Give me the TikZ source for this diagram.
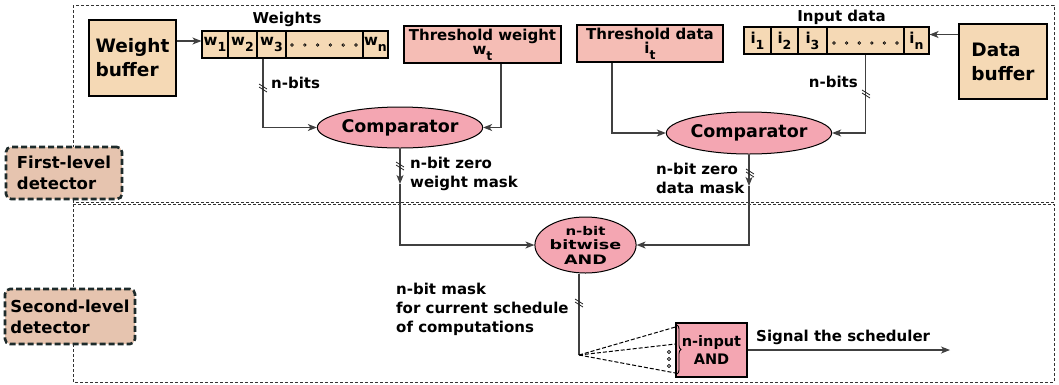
\documentclass[tikz,border=0pt]{standalone}
\usepackage{fontspec}
\usepackage{graphicx}
\setmainfont{DejaVu Sans}
\usetikzlibrary{arrows.meta,decorations.pathreplacing,shapes.geometric}
\definecolor{wheatc}{HTML}{F5D9B5}
\definecolor{thrc}{HTML}{F5BDB5}
\definecolor{pinkc}{HTML}{F4A6B2}
\definecolor{lblc}{HTML}{E6C4AF}
\definecolor{lbld}{HTML}{1E2B2B}
\newcommand\fs[2]{\fontsize{#1}{#2}\selectfont}
\newcommand\sbs[1]{\raisebox{-6pt}{\fs{12.5}{12.5}#1}}
\begin{document}
\begin{tikzpicture}[x=1pt,y=-1pt,
  buf/.style={draw=black, line width=1.2pt, fill=wheatc, align=left, inner sep=0, font=\bfseries\fs{18.5}{24}},
  cell/.style={draw=black, line width=1.1pt, fill=wheatc, inner sep=0, minimum height=27pt, font=\bfseries\fs{15}{18}},
  thr/.style={draw=black, line width=1.1pt, fill=thrc, align=center, inner sep=0, minimum height=37pt, font=\bfseries\fs{15}{18}},
  cmp/.style={ellipse, draw=black, line width=1pt, fill=pinkc, inner sep=0, font=\bfseries\fs{17.5}{20}},
  lbl/.style={inner sep=0, font=\bfseries\fs{15}{19}, align=left},
  det/.style={draw=lbld, line width=2.6pt, dash pattern=on 6pt off 3pt, rounded corners=5pt, fill=lblc, align=left, inner sep=0, font=\bfseries\fs{16.5}{21}},
  conn/.style={draw=black!75, line width=1.1pt},
  arr/.style={conn, -{Stealth[length=9pt,width=7pt,inset=2.5pt]}},
  framel/.style={draw=black!80, line width=1pt, dash pattern=on 3pt off 2pt},
  fanl/.style={draw=black, line width=1pt, dash pattern=on 4pt off 2pt},
  busmark/.pic={\draw[black!85, line width=0.8pt] (-4,-4) -- (4,1) (-4,-1) -- (4,4);}
]
\useasboundingbox (0,0) rectangle (1059,384);
% frames
\draw[framel] (73,5) rectangle (1054,202);
\draw[framel] (73,204) rectangle (1054,382);

% level labels
\node[det, minimum width=116pt, minimum height=52pt] (det1) at (64,173) {First-level\\detector};
\node[det, minimum width=130pt, minimum height=55pt] (det2) at (70,316.5) {Second-level\\detector};

% buffers
\node[buf, minimum width=87pt, minimum height=76pt] (wbuf) at (132.5,58) {Weight\\buffer};
\node[buf, minimum width=88pt, minimum height=75pt] (dbuf) at (1003,61.5) {Data\\buffer};

% weight register
\node[cell, minimum width=26pt] (w1) at (215,44.5) {w\sbs{1}};
\node[cell, minimum width=29pt] (w2) at (242.5,44.5) {w\sbs{2}};
\node[cell, minimum width=29pt] (w3) at (271.5,44.5) {w\sbs{3}};
\node[cell, minimum width=77pt] (wd) at (324.5,44.5) {};
\node[cell, minimum width=25pt] (wn) at (375.5,44.5) {w\sbs{n}};
\node[lbl, anchor=base] (wlab) at (287,23) {Weights};
\foreach \i in {0,...,5} \draw[black, line width=0.7pt] ({292+\i*12.8},45) circle[radius=1.3pt];

% input register
\node[cell, minimum width=27pt] (i1) at (757.5,40.5) {i\sbs{1}};
\node[cell, minimum width=27pt] (i2) at (784.5,40.5) {i\sbs{2}};
\node[cell, minimum width=29pt] (i3) at (812.5,40.5) {i\sbs{3}};
\node[cell, minimum width=77pt] (id) at (865.5,40.5) {};
\node[cell, minimum width=25pt] (in) at (916.5,40.5) {i\sbs{n}};
\node[lbl, anchor=base] (ilab) at (841.5,21) {Input data};
\foreach \i in {0,...,5} \draw[black, line width=0.7pt] ({834+\i*12.6},43) circle[radius=1.3pt];

% thresholds
\node[thr, minimum width=157pt] (thw) at (482.5,44.5) {Threshold weight\\[-4pt] w\sbs{t}};
\node[thr, minimum width=146pt] (thd) at (650,43.5) {Threshold data\\[-4pt] i\sbs{t}};

% comparators
\node[cmp, minimum width=138pt, minimum height=41pt] (cmp1) at (400,127.5) {Comparator};
\node[cmp, minimum width=136pt, minimum height=42pt] (cmp2) at (749,133) {Comparator};

% bitwise AND
\node[cmp, minimum width=95pt, minimum height=56pt, align=center, font=\bfseries\fs{13}{14.5}] (and) at (585.5,245)
  {\scalebox{1.25}[1]{\fs{12}{12}n-bit}\\\scalebox{1.35}[1]{bitwise}\\\scalebox{1.35}[1]{AND}};

% n-input AND
\node[draw=black, line width=1.1pt, fill=pinkc, inner sep=0, minimum width=71pt, minimum height=54pt, align=center, font=\bfseries\fs{14.5}{18}] (nand) at (711.5,350) {n-input\\AND};

% coordinates
\coordinate (wa) at ([yshift=3.5pt]w1.west);
\coordinate (ia) at ([yshift=6pt]in.east);
\coordinate (m1) at (400,184);
\coordinate (m2) at (749,186);
\coordinate (fan) at (579,355);
\coordinate (sig) at (950,350);

% connectors
\draw[arr] (wa -| wbuf.east) -- (wa);
\draw[arr] (ia -| dbuf.west) -- (ia);
\draw[arr] ([xshift=-8.5pt]w3.south) |- (cmp1.west);
\draw[arr] ([xshift=18.5pt]thw.south) |- (cmp1.east);
\draw[arr] ([xshift=-38pt]thd.south) |- (cmp2.west);
\draw[arr] (id.south) |- (cmp2.east);
\draw[arr] (cmp1.south) -- (m1);
\draw[arr] (m1) |- (and.west);
\draw[arr] (cmp2.south) -- (m2);
\draw[arr] (m2) |- (and.east);
\draw[conn] ([xshift=-6.5pt]and.south) -- (fan);
\draw[fanl] (fan) -- ([yshift=23pt]nand.west);
\draw[fanl] (fan) -- ([yshift=6pt]nand.west);
\draw[fanl] (fan) -- ([yshift=-23pt]nand.west);
\draw[arr] (nand.east) -- (sig);

% bus marks
\pic at (263,88) {busmark};
\pic at (866,94) {busmark};
\pic at (400,166) {busmark};
\pic at (750,173) {busmark};
\pic at (579,303) {busmark};

% fan dots and brace
\foreach \yy in {352,359,366} \draw[black, line width=0.7pt] (669,\yy) circle[radius=1.6pt];
\draw[decorate, decoration={brace, amplitude=4pt}, line width=0.9pt] (677,325) -- (677,374);

% labels
\node[lbl, anchor=base west] (nb1) at (271,88) {n-bits};
\node[lbl, anchor=base east] (nb2) at (858,87) {n-bits};
\node[lbl, anchor=north west, font=\bfseries\fs{15}{18.5}] (zw) at (410,157) {n-bit zero\\weight mask};
\node[lbl, anchor=north west, font=\bfseries\fs{15}{18.5}] (zd) at (656,163) {n-bit zero\\data mask};
\node[lbl, anchor=north west] (msk) at (396,283) {n-bit mask\\for current schedule\\of computations};
\node[lbl, anchor=base west] (sg) at (756,341) {Signal the scheduler};
\end{tikzpicture}
\end{document}
